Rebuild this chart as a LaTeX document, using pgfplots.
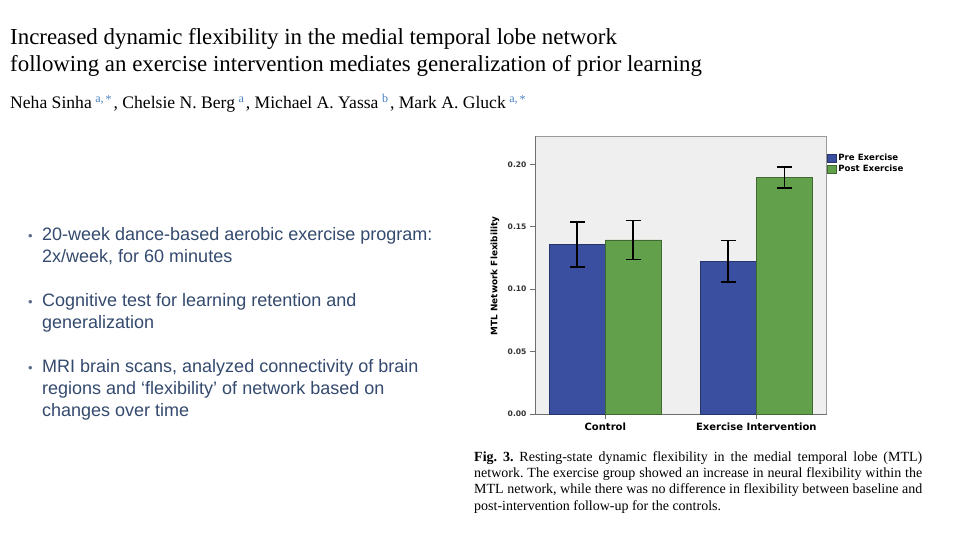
\documentclass[border=0pt]{standalone}
\usepackage{fontspec}
\setmainfont{Liberation Serif}
\newfontfamily\arialf{Liberation Sans}
\newfontfamily\dvs{DejaVu Sans}
\usepackage{pgfplots}
\pgfplotsset{compat=1.18}
\definecolor{barblue}{HTML}{3A4F9F}
\definecolor{edgeblue}{HTML}{26346B}
\definecolor{bargreen}{HTML}{62A04C}
\definecolor{edgegreen}{HTML}{3F6B33}
\definecolor{bggray}{HTML}{EFEFEF}
\definecolor{framegray}{HTML}{9A9A9A}
\definecolor{axisgray}{HTML}{6E6E6E}
\definecolor{bullettext}{HTML}{344A6E}
\definecolor{supblue}{HTML}{4A82C4}
\definecolor{darktext}{HTML}{333333}
\newcommand{\sups}[1]{\kern3.5pt\raisebox{6pt}{\fontsize{12}{14}\selectfont\color{supblue}#1}\kern2pt}
\begin{document}
\begin{tikzpicture}
\fill[white] (0pt,0pt) rectangle (960pt,-540pt);
% title
\node[anchor=base west, inner sep=0pt, font=\fontsize{22.9}{27}\selectfont] at (10pt,-45pt) {Increased dynamic flexibility in the medial temporal lobe network};
\node[anchor=base west, inner sep=0pt, font=\fontsize{22.9}{27}\selectfont] at (10pt,-72pt) {following an exercise intervention mediates generalization of prior learning};
\node[anchor=base west, inner sep=0pt, font=\fontsize{17.6}{20}\selectfont] at (10pt,-109pt) {Neha Sinha\sups{a,\,\raisebox{-1pt}{*}}, Chelsie N. Berg\sups{a}, Michael A. Yassa\sups{b}, Mark A. Gluck\sups{a,\,\raisebox{-1pt}{*}}};
% bullets
\begin{scope}[every node/.style={anchor=base west, inner sep=0pt, text=bullettext, font=\arialf\fontsize{18}{22}\selectfont}]
\node[font=\arialf\fontsize{13}{16}\selectfont, text=bullettext!80] at (28pt,-240pt) {•};
\node at (42pt,-240pt) {20-week dance-based aerobic exercise program:};
\node at (42pt,-262pt) {2x/week, for 60 minutes};
\node[font=\arialf\fontsize{13}{16}\selectfont, text=bullettext!80] at (28pt,-306pt) {•};
\node at (42pt,-306pt) {Cognitive test for learning retention and};
\node at (42pt,-328pt) {generalization};
\node[font=\arialf\fontsize{13}{16}\selectfont, text=bullettext!80] at (28pt,-372pt) {•};
\node at (42pt,-372pt) {MRI brain scans, analyzed connectivity of brain};
\node at (42pt,-394pt) {regions and ‘flexibility’ of network based on};
\node at (42pt,-416pt) {changes over time};
\end{scope}
% caption
\node[anchor=north west, inner sep=0pt, text width=448pt, align=justify, font=\fontsize{14}{16.4}\selectfont] at (474pt,-451pt) {\frenchspacing\textbf{Fig. 3.} Resting-state dynamic flexibility in the medial temporal lobe (MTL)\linebreak network. The exercise group showed an increase in neural flexibility within the\linebreak MTL network, while there was no difference in flexibility between baseline and\linebreak post-intervention follow-up for the controls.};
% chart
\begin{axis}[
  at={(535pt,-414pt)}, anchor=south west,
  scale only axis, width=291.7pt, height=278pt,
  xmin=-0.4656, xmax=1.466, ymin=0, ymax=0.2227,
  axis background/.style={fill=bggray, draw=framegray, line width=0.6pt},
  axis x line*=bottom, axis y line*=left,
  axis line style={draw=axisgray, line width=1pt, -},
  xtick={0,1}, xticklabels={Control,Exercise Intervention},
  ytick={0,0.05,0.1,0.15,0.2},
  /pgf/number format/assume math mode=true,
  yticklabel style={/pgf/number format/fixed, /pgf/number format/fixed zerofill, /pgf/number format/precision=2, font=\dvs\bfseries\fontsize{7.6}{9}\selectfont, text=darktext},
  tick align=outside, major tick length=5pt,
  tick style={draw=axisgray, line width=0.8pt},
  xticklabel style={font=\dvs\bfseries\fontsize{10}{12}\selectfont, text=black},
  ylabel={MTL Network Flexibility},
  every axis y label/.style={at={(axis description cs:-0.137,0.497)}, rotate=90, anchor=center, font=\dvs\bfseries\fontsize{8.9}{10}\selectfont},
  legend style={at={(axis description cs:1,0.944)}, anchor=north west, draw=none, fill=none, inner sep=0pt, font=\dvs\bfseries\fontsize{8.6}{10}\selectfont, row sep=-1pt, cells={anchor=west}},
  ybar, bar width=0.371,
]
\addplot[ybar, bar shift=0pt, fill=barblue, draw=edgeblue, line width=0.6pt, forget plot,
  error bars/.cd, y dir=both, y explicit, error bar style={black, line width=1.7pt}, error mark options={rotate=90, black, line width=1.7pt, mark size=7.5pt}]
  coordinates {(-0.1855,0.136) +- (0,0.018) (0.8145,0.1223) +- (0,0.0167)};
\addplot[ybar, bar shift=0pt, fill=bargreen, draw=edgegreen, line width=0.6pt, forget plot,
  error bars/.cd, y dir=both, y explicit, error bar style={black, line width=1.7pt}, error mark options={rotate=90, black, line width=1.7pt, mark size=7.5pt}]
  coordinates {(0.1855,0.1394) +- (0,0.0157) (1.1855,0.1894) +- (0,0.0083)};
\addlegendimage{legend image code/.code={\draw[fill=barblue, draw=edgeblue, line width=0.5pt] (0pt,-4pt) rectangle (9pt,4pt);}}
\addlegendentry{Pre Exercise}
\addlegendimage{legend image code/.code={\draw[fill=bargreen, draw=edgegreen, line width=0.5pt] (0pt,-4pt) rectangle (9pt,4pt);}}
\addlegendentry{Post Exercise}
\end{axis}
\end{tikzpicture}
\end{document}
